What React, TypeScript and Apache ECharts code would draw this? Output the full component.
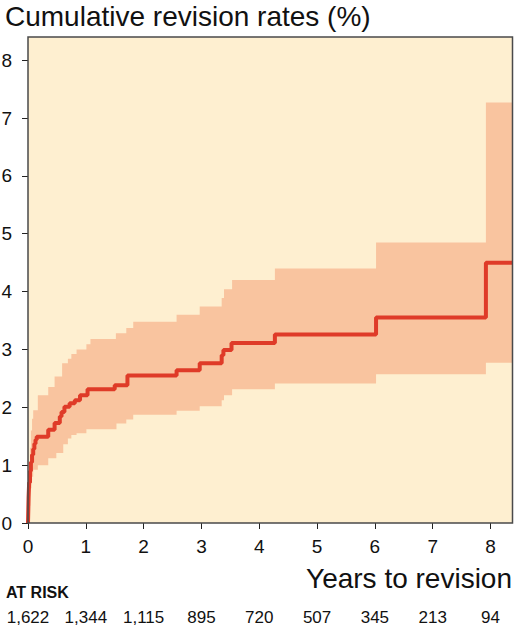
import React, { useEffect, useRef } from "react";
import * as echarts from "echarts";

const yearTicks = [0, 1, 2, 3, 4, 5, 6, 7, 8];
const yTicks = [0, 1, 2, 3, 4, 5, 6, 7, 8];
const atRisk = ["1,622", "1,344", "1,115", "895", "720", "507", "345", "213", "94"];

// Kaplan-Meier style step data: [year, value from this year onward]
const estimate: [number, number][] = [
  [0, 0], [0.01, 0.45], [0.02, 0.7], [0.035, 0.9], [0.05, 1.05], [0.07, 1.18], [0.09, 1.28],
  [0.11, 1.37], [0.13, 1.44], [0.15, 1.49], [0.35, 1.61], [0.46, 1.73], [0.55, 1.84],
  [0.58, 1.92], [0.63, 2.01], [0.72, 2.07], [0.81, 2.12], [0.9, 2.21], [1.03, 2.31],
  [1.5, 2.38], [1.72, 2.55], [2.57, 2.64], [2.97, 2.76], [3.35, 2.9], [3.38, 2.99],
  [3.52, 3.11], [4.27, 3.26], [6.02, 3.55], [7.92, 4.5], [8.38, 4.5],
];

const upperCI: [number, number][] = [
  [0, 0], [0.01, 0.5], [0.02, 0.9], [0.035, 1.3], [0.05, 1.6], [0.07, 1.8], [0.09, 1.95],
  [0.17, 2.21], [0.35, 2.35], [0.46, 2.53], [0.59, 2.76], [0.69, 2.84], [0.75, 2.92],
  [0.84, 3.0], [1.01, 3.09], [1.08, 3.18], [1.52, 3.28], [1.7, 3.37], [1.82, 3.48],
  [2.57, 3.6], [2.97, 3.74], [3.35, 3.89], [3.39, 4.04], [3.53, 4.2], [4.27, 4.4],
  [6.02, 4.85], [7.92, 7.27], [8.38, 7.27],
];

const lowerCI: [number, number][] = [
  [0, 0], [0.02, 0.3], [0.04, 0.6], [0.06, 0.8], [0.09, 0.92], [0.17, 1.0], [0.35, 1.12],
  [0.49, 1.21], [0.61, 1.36], [0.69, 1.46], [0.75, 1.52], [0.84, 1.55], [1.01, 1.62],
  [1.53, 1.72], [1.7, 1.79], [1.82, 1.87], [2.57, 1.94], [2.97, 2.02], [3.35, 2.12],
  [3.39, 2.21], [3.53, 2.31], [4.27, 2.41], [6.02, 2.57], [7.92, 2.77], [8.38, 2.77],
];

const X_MAX = 8.38;
const Y_MAX = 8.4;

const BG = "#FEEFD0";
const BAND = "#F9C49F";
const LINE = "#DF3B28";
const FONT = "'Liberation Sans', Arial, Helvetica, sans-serif";

export default function App() {
  const ref = useRef<HTMLDivElement>(null);

  useEffect(() => {
    if (!ref.current) return;
    const chart = echarts.init(ref.current, null, { renderer: "svg" });

    const gridLeft = 28;
    const gridTop = 37;
    const gridRight = 1.5;
    const gridBottom = 105;
    const W = 514;
    const H = 628;

    chart.setOption({
      animation: false,
      title: [
        {
          text: "Cumulative revision rates (%)",
          left: 0,
          top: -3,
          textStyle: { fontFamily: FONT, fontSize: 28, fontWeight: "normal", color: "#111" },
        },
        {
          text: "Years to revision",
          right: -3,
          top: 559,
          textStyle: { fontFamily: FONT, fontSize: 28, fontWeight: "normal", color: "#111" },
        },
        {
          text: "AT RISK",
          left: 1,
          top: 579,
          textStyle: { fontFamily: FONT, fontSize: 16, fontWeight: "bold", color: "#111" },
        },
      ],
      grid: {
        left: gridLeft,
        top: gridTop,
        right: gridRight,
        bottom: gridBottom,
        containLabel: false,
        outerBoundsMode: "none",
        show: true,
        backgroundColor: BG,
        borderWidth: 0,
      },
      xAxis: [
        {
          type: "value",
          min: 0,
          max: X_MAX,
          interval: 1,
          splitLine: { show: false },
          axisLine: { show: false },
          axisTick: {
            show: true,
            length: 6,
            customValues: yearTicks,
            lineStyle: { color: "#222", width: 1 },
          },
          axisLabel: {
            customValues: yearTicks,
            margin: 14,
            fontFamily: FONT,
            fontSize: 19,
            color: "#111",
          },
        },
        {
          type: "value",
          position: "bottom",
          offset: 78,
          min: 0,
          max: X_MAX,
          interval: 1,
          splitLine: { show: false },
          axisLine: { show: false },
          axisTick: { show: false },
          axisLabel: {
            customValues: yearTicks,
            margin: 8,
            fontFamily: FONT,
            fontSize: 17,
            color: "#111",
            formatter: (v: number) => {
              const i = yearTicks.indexOf(Math.round(v));
              return i >= 0 ? atRisk[i] : "";
            },
          },
        },
      ],
      yAxis: {
        type: "value",
        min: 0,
        max: Y_MAX,
        interval: 1,
        splitLine: { show: false },
        axisLine: { show: false },
        axisTick: {
          show: true,
          length: 6,
          customValues: yTicks,
          lineStyle: { color: "#222", width: 1 },
        },
        axisLabel: {
          customValues: yTicks,
          margin: 16,
          fontFamily: FONT,
          fontSize: 19,
          color: "#111",
        },
      },
      graphic: [
        {
          type: "rect",
          z: 100,
          silent: true,
          shape: {
            x: gridLeft,
            y: gridTop,
            width: W - gridLeft - gridRight,
            height: H - gridTop - gridBottom,
          },
          style: { fill: "none", stroke: "#4a4a4a", lineWidth: 1.5 },
        },
      ],
      series: [
        {
          type: "line",
          name: "upper",
          step: "end",
          data: upperCI,
          symbol: "none",
          lineStyle: { opacity: 0, width: 0 },
          areaStyle: { color: BAND, opacity: 1 },
          silent: true,
          z: 2,
        },
        {
          type: "line",
          name: "lower",
          step: "end",
          data: lowerCI,
          symbol: "none",
          lineStyle: { opacity: 0, width: 0 },
          areaStyle: { color: BG, opacity: 1 },
          silent: true,
          z: 3,
        },
        {
          type: "line",
          name: "estimate",
          step: "end",
          data: estimate,
          symbol: "none",
          lineStyle: { color: LINE, width: 4 },
          z: 5,
        },
      ],
    });

    return () => chart.dispose();
  }, []);

  return <div ref={ref} style={{ width: 514, height: 628, position: "absolute", left: 0, top: 0 }} />;
}
